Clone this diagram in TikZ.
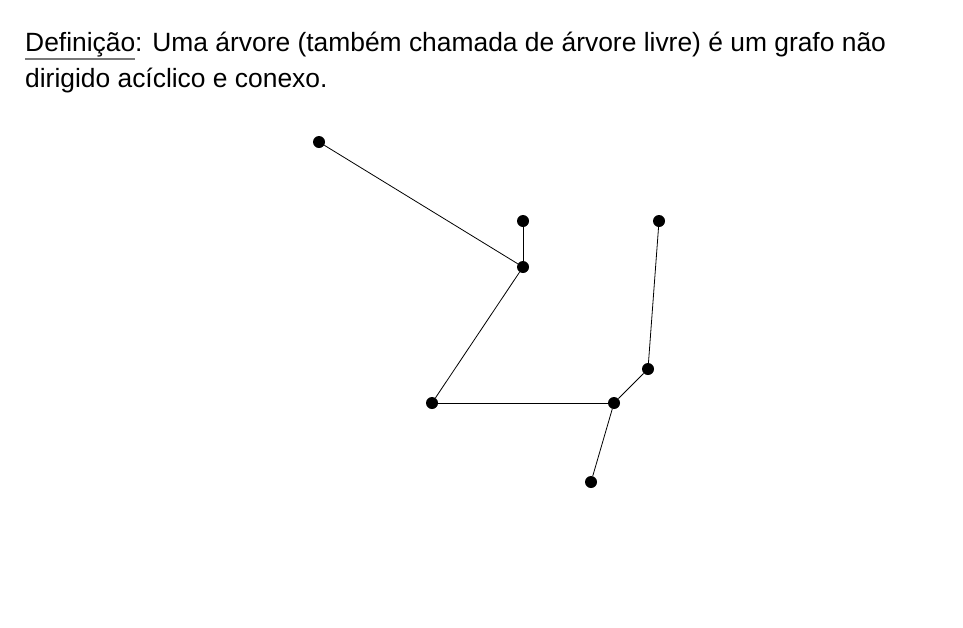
\documentclass[tikz,border=0pt]{standalone}
\usepackage{fontspec}
\setmainfont{Liberation Sans}
\definecolor{ulgray}{RGB}{120,120,120}
\newlength\defwd
\tikzset{
  vtx/.style={circle,fill=black,inner sep=0pt,minimum size=12pt},
  edge/.style={draw=black,line width=0.8pt},
  deftext/.style={anchor=base west,inner sep=0pt,font=\fontsize{26.4}{36}\selectfont}
}
\begin{document}
\begin{tikzpicture}[x=1pt,y=-1pt]
\useasboundingbox (0,0) rectangle (963,627);
\node[deftext] (def1) at (25,51) {\settowidth\defwd{Definição}\rlap{\color{ulgray}\rule[-8.5pt]{\defwd}{1.6pt}}Definição: Uma árvore (também chamada de árvore livre) é um grafo não};
\node[deftext] (def2) at (25,87) {dirigido acíclico e conexo.};
\node[vtx] (a) at (319,142) {};
\node[vtx] (b) at (523,221) {};
\node[vtx] (c) at (523,267) {};
\node[vtx] (d) at (432,403) {};
\node[vtx] (e) at (614,403) {};
\node[vtx] (f) at (648,369) {};
\node[vtx] (g) at (659,221) {};
\node[vtx] (h) at (591,482) {};
\draw[edge] (a) -- (c);
\draw[edge] (b) -- (c);
\draw[edge] (c) -- (d);
\draw[edge] (d) -- (e);
\draw[edge] (e) -- (f);
\draw[edge] (f) -- (g);
\draw[edge] (e) -- (h);
\end{tikzpicture}
\end{document}
